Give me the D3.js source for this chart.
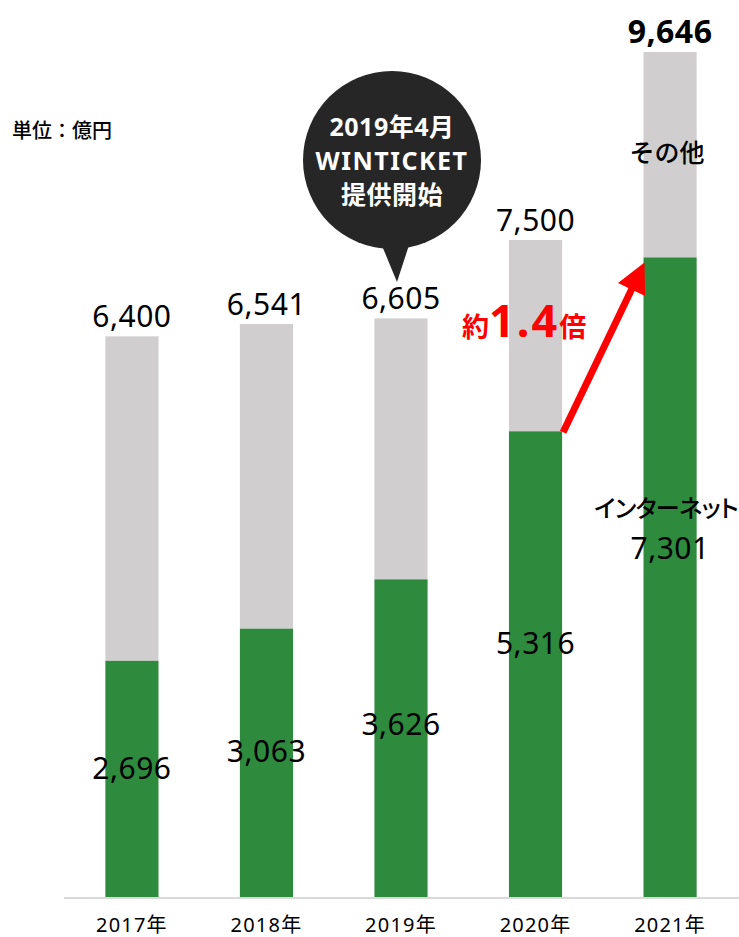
<!DOCTYPE html>
<html>
<head>
<meta charset="utf-8">
<script src="https://cdn.jsdelivr.net/npm/d3@7"></script>
<style>
  body { margin: 0; background: #fff; }
  svg { display: block; font-family: "Noto Sans", "Noto Sans CJK JP", sans-serif; }
  .palt { font-feature-settings: "palt"; }
</style>
</head>
<body>
<div id="chart"></div>
<script>
// values in 億円
var years = ['2017年', '2018年', '2019年', '2020年', '2021年'];
var internet = [2696, 3063, 3626, 5316, 7301];
var totals = [6400, 6541, 6605, 7500, 9646];

var width = 739,
    height = 937,
    baseY = 897,
    green = '#2e8a3d',
    gray = '#d0cece',
    cjk = '"Noto Sans CJK JP", sans-serif';

var fmt = d3.format(',');

var svg = d3.select('#chart')
  .append('svg')
  .attr('width', width)
  .attr('height', height);

var x = d3.scaleBand()
  .domain(years)
  .range([65, 737])
  .paddingInner(0.605)
  .paddingOuter(0.3);

var y = d3.scaleLinear()
  .domain([0, 9646])
  .range([baseY, 52]);

var rows = years.map(function (d, i) {
  return { year: d, net: internet[i], total: totals[i], i: i };
});

// other (gray) segment
svg.selectAll('rect.other')
  .data(rows).enter()
  .append('rect')
  .attr('class', 'other')
  .attr('x', function (d) { return x(d.year); })
  .attr('y', function (d) { return y(d.total); })
  .attr('width', x.bandwidth())
  .attr('height', function (d) { return y(d.net) - y(d.total); })
  .attr('fill', gray);

// internet (green) segment
svg.selectAll('rect.net')
  .data(rows).enter()
  .append('rect')
  .attr('class', 'net')
  .attr('x', function (d) { return x(d.year); })
  .attr('y', function (d) { return y(d.net); })
  .attr('width', x.bandwidth())
  .attr('height', function (d) { return baseY - y(d.net); })
  .attr('fill', green);

// baseline
svg.append('line')
  .attr('x1', 64).attr('x2', width)
  .attr('y1', baseY + 1).attr('y2', baseY + 1)
  .attr('stroke', '#d9d9d9')
  .attr('stroke-width', 2);

// year labels
svg.selectAll('text.year')
  .data(rows).enter()
  .append('text')
  .attr('class', 'year')
  .attr('x', function (d) { return x(d.year) + x.bandwidth() / 2; })
  .attr('y', 932)
  .attr('text-anchor', 'middle')
  .attr('font-size', 20)
  .attr('letter-spacing', 1.2)
  .attr('fill', '#000')
  .text(function (d) { return d.year; });

// total labels
svg.selectAll('text.total')
  .data(rows).enter()
  .append('text')
  .attr('class', 'total')
  .attr('x', function (d) { return x(d.year) + x.bandwidth() / 2; })
  .attr('y', function (d) { return y(d.total) - 9; })
  .attr('text-anchor', 'middle')
  .attr('font-size', function (d) { return d.i === 4 ? 32 : 30; })
  .attr('font-weight', function (d) { return d.i === 4 ? 700 : 400; })
  .attr('letter-spacing', 0.5)
  .attr('fill', '#000')
  .text(function (d) { return fmt(d.total); });

// internet value labels
svg.selectAll('text.net')
  .data(rows).enter()
  .append('text')
  .attr('class', 'net')
  .attr('x', function (d) { return x(d.year) + x.bandwidth() / 2; })
  .attr('y', function (d) {
    var top = y(d.net);
    return top + (baseY - top) * 0.455;
  })
  .attr('dy', '0.36em')
  .attr('text-anchor', 'middle')
  .attr('font-size', 30)
  .attr('letter-spacing', 0.5)
  .attr('fill', '#000')
  .text(function (d) { return fmt(d.net); });

// series names on 2021 bar
var last = rows[4],
    cx = x(last.year) + x.bandwidth() / 2;

svg.append('text')
  .attr('x', cx - 3)
  .attr('y', (y(last.total) + y(last.net)) / 2 - 2)
  .attr('dy', '0.36em')
  .attr('text-anchor', 'middle')
  .attr('font-family', cjk)
  .attr('font-size', 25)
  .attr('font-weight', 500)
  .text('その他');

svg.append('text')
  .attr('class', 'palt')
  .attr('x', cx - 4)
  .attr('y', 508)
  .attr('dy', '0.36em')
  .attr('text-anchor', 'middle')
  .attr('font-family', cjk)
  .attr('font-size', 24)
  .attr('font-weight', 500)
  .attr('letter-spacing', -0.5)
  .text('インターネット');

// unit
svg.append('text')
  .attr('x', 12)
  .attr('y', 138)
  .attr('font-family', cjk)
  .attr('font-size', 20)
  .attr('font-weight', 500)
  .text('単位：億円');

// callout bubble over 2019
var bx = x(years[2]) + x.bandwidth() / 2 - 9;
svg.append('circle')
  .attr('cx', bx).attr('cy', 160).attr('r', 89)
  .attr('fill', '#262626');
svg.append('path')
  .attr('d', 'M' + (bx - 14) + ',236 L' + (bx + 20) + ',236 L' + (bx + 5) + ',282 Z')
  .attr('fill', '#262626');

var bubbleLines = ['2019年4月', 'WINTICKET', '提供開始'];
svg.selectAll('text.bubble')
  .data(bubbleLines).enter()
  .append('text')
  .attr('class', 'bubble')
  .attr('x', bx)
  .attr('y', function (d, i) { return 136 + i * 34; })
  .attr('text-anchor', 'middle')
  .attr('font-size', 25)
  .attr('font-weight', 700)
  .attr('letter-spacing', function (d, i) { return i === 1 ? 1.5 : 0.5; })
  .attr('fill', '#fff')
  .text(function (d) { return d; });

// growth arrow 2020 -> 2021
var x0 = x(years[3]) + x.bandwidth() + 1,
    y0 = y(internet[3]) + 1,
    x1 = x(years[4]) + 1,
    y1 = y(internet[4]) + 5,
    dx = x1 - x0, dy = y1 - y0,
    len = Math.sqrt(dx * dx + dy * dy),
    ux = dx / len, uy = dy / len,
    headLen = 30, headW = 15,
    hx = x1 - ux * headLen, hy = y1 - uy * headLen;

svg.append('line')
  .attr('x1', x0).attr('y1', y0)
  .attr('x2', hx + ux * 2).attr('y2', hy + uy * 2)
  .attr('stroke', '#ff0000')
  .attr('stroke-width', 7);

svg.append('path')
  .attr('d', 'M' + x1 + ',' + y1 +
    ' L' + (hx - uy * headW) + ',' + (hy + ux * headW) +
    ' L' + (hx + uy * headW) + ',' + (hy - ux * headW) + ' Z')
  .attr('fill', '#ff0000');

var ratio = svg.append('text')
  .attr('x', 462)
  .attr('y', 337)
  .attr('fill', '#ff0000')
  .attr('font-weight', 700);
ratio.append('tspan').attr('font-family', cjk).attr('font-size', 27).text('約');
ratio.append('tspan').attr('font-size', 45).attr('letter-spacing', 2).text('1.4');
ratio.append('tspan').attr('font-family', cjk).attr('font-size', 27).text('倍');
</script>
</body>
</html>
